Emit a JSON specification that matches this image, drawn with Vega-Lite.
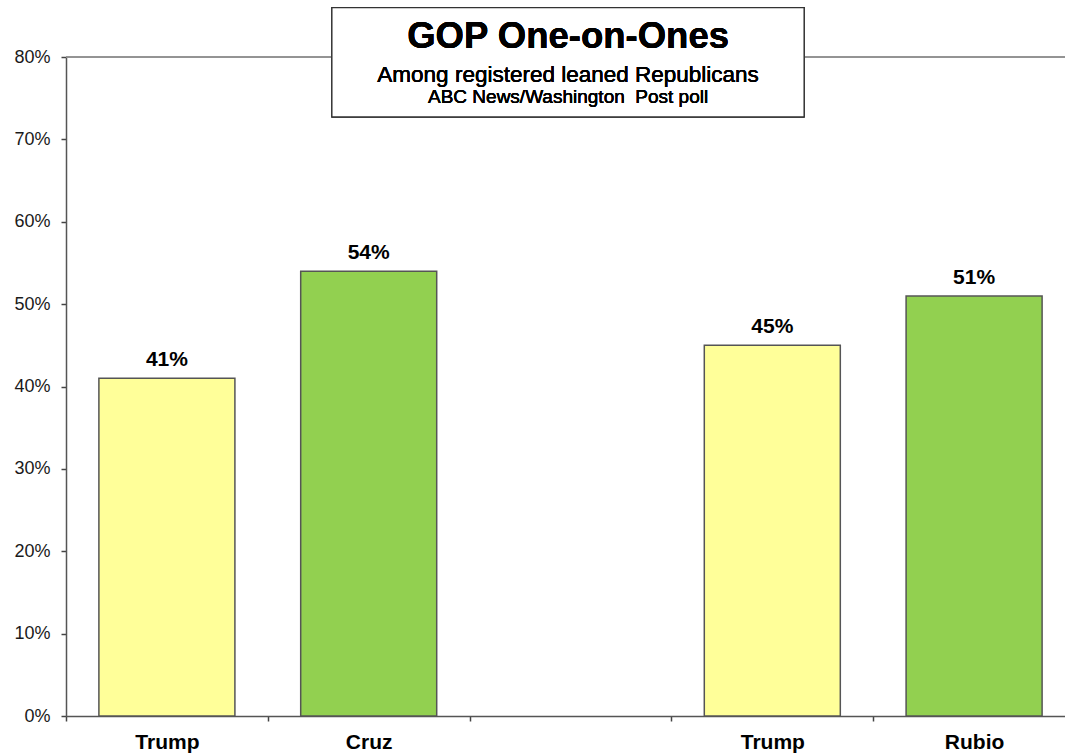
{
  "$schema": "https://vega.github.io/schema/vega-lite/v6.json",
  "width": 999,
  "height": 659,
  "autosize": {"type": "none"},
  "padding": {"left": 66, "top": 57, "right": 0, "bottom": 39},
  "background": "white",
  "config": {
    "view": {"stroke": null},
    "font": "Liberation Sans"
  },
  "data": {
    "values": [
      {"slot": "Trump1", "candidate": "Trump", "group": "Trump", "pct": 41},
      {"slot": "Cruz", "candidate": "Cruz", "group": "Challenger", "pct": 54},
      {"slot": "Trump2", "candidate": "Trump", "group": "Trump", "pct": 45},
      {"slot": "Rubio", "candidate": "Rubio", "group": "Challenger", "pct": 51}
    ]
  },
  "resolve": {"scale": {"x": "independent"}},
  "layer": [
    {
      "mark": {"type": "rule", "color": "#8c8c8c", "strokeWidth": 1},
      "encoding": {"y": {"datum": 80, "type": "quantitative"}}
    },
    {
      "layer": [
        {
          "mark": {"type": "bar", "stroke": "#555555", "strokeWidth": 1.5, "width": {"band": 0.674}},
          "encoding": {
            "color": {
              "field": "group",
              "type": "nominal",
              "scale": {"domain": ["Trump", "Challenger"], "range": ["#ffff99", "#92d050"]},
              "legend": null
            }
          }
        },
        {
          "transform": [{"calculate": "datum.pct + '%'", "as": "label"}],
          "mark": {"type": "text", "baseline": "bottom", "dy": -8, "fontSize": 21, "fontWeight": "bold", "font": "Liberation Sans", "color": "#000000"},
          "encoding": {
            "text": {"field": "label", "type": "nominal"}
          }
        }
      ],
      "encoding": {
        "x": {
          "field": "slot",
          "type": "nominal",
          "scale": {"domain": ["Trump1", "Cruz", "Gap", "Trump2", "Rubio"], "paddingInner": 0, "paddingOuter": 0, "range": [0, 1009]},
          "axis": {
            "title": null,
            "labelAngle": 0,
            "tickBand": "extent",
            "labelExpr": "datum.value == 'Trump1' || datum.value == 'Trump2' ? 'Trump' : datum.value == 'Gap' ? '' : datum.value",
            "labelFont": "Liberation Sans",
            "labelFontWeight": "bold",
            "labelFontSize": 21,
            "labelColor": "#000000",
            "labelPadding": 10,
            "domainColor": "#555555",
            "domainWidth": 1.5,
            "tickColor": "#444444",
            "tickSize": 5,
            "tickWidth": 1.5,
            "grid": false
          }
        },
        "y": {
          "field": "pct",
          "type": "quantitative",
          "scale": {"domain": [0, 80], "nice": false},
          "axis": {
            "title": null,
            "values": [0, 10, 20, 30, 40, 50, 60, 70, 80],
            "labelExpr": "datum.value + '%'",
            "labelFont": "Liberation Sans",
            "labelFontSize": 18,
            "labelColor": "#1a1a1a",
            "labelPadding": 11,
            "domainColor": "#555555",
            "domainWidth": 1.5,
            "tickColor": "#444444",
            "tickSize": 5,
            "tickWidth": 1.5,
            "grid": false
          }
        }
      }
    },
    {
      "layer": [
        {
          "mark": {"type": "rect", "fill": "white", "stroke": "#333333", "strokeWidth": 1.2},
          "encoding": {
            "x": {"datum": 1.331, "type": "quantitative", "scale": {"domain": [0, 5], "nice": false}, "axis": null},
            "x2": {"datum": 3.694},
            "y": {"datum": 86.0, "type": "quantitative"},
            "y2": {"datum": 72.72}
          }
        },
        {
          "mark": {"type": "text", "text": "GOP One-on-Ones", "fontSize": 36.5, "fontWeight": "bold", "font": "Liberation Sans", "baseline": "alphabetic", "align": "center", "color": "#000000"},
          "encoding": {
            "x": {"datum": 2.513, "type": "quantitative"},
            "y": {"datum": 81.06, "type": "quantitative"}
          }
        },
        {
          "mark": {"type": "text", "text": "Among registered leaned Republicans", "fontSize": 22.5, "font": "Liberation Sans", "baseline": "alphabetic", "align": "center", "color": "#000000"},
          "encoding": {
            "x": {"datum": 2.513, "type": "quantitative"},
            "y": {"datum": 77.0, "type": "quantitative"}
          }
        },
        {
          "mark": {"type": "text", "text": "ABC News/Washington\u00a0 Post poll", "fontSize": 19, "font": "Liberation Sans", "baseline": "alphabetic", "align": "center", "color": "#000000"},
          "encoding": {
            "x": {"datum": 2.513, "type": "quantitative"},
            "y": {"datum": 74.38, "type": "quantitative"}
          }
        }
      ]
    }
  ]
}
